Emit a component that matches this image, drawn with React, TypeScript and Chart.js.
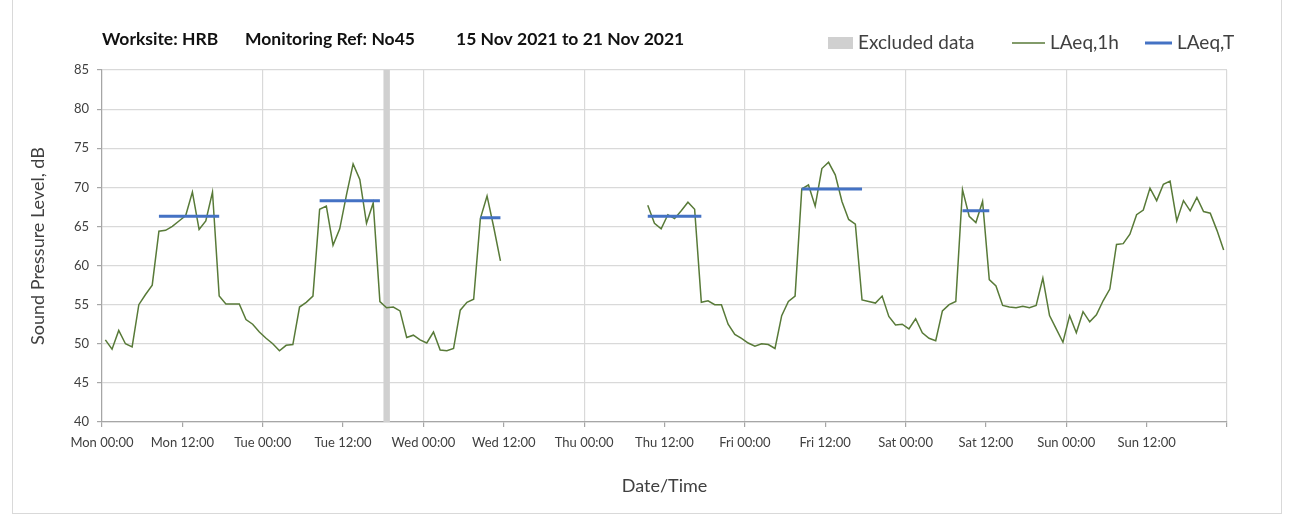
import React, { useEffect, useRef } from 'react';
import { Chart, registerables } from 'chart.js';

Chart.register(...registerables);

// X-axis tick labels, one every 12 hours from Mon 00:00
const tickLabels = [
  'Mon 00:00', 'Mon 12:00', 'Tue 00:00', 'Tue 12:00', 'Wed 00:00', 'Wed 12:00', 'Thu 00:00',
  'Thu 12:00', 'Fri 00:00', 'Fri 12:00', 'Sat 00:00', 'Sat 12:00', 'Sun 00:00', 'Sun 12:00',
];

// Hourly LAeq,1h values (dB), hour 0 = Mon 00:00 ... hour 167 = Sun 23:00; null = no data
const mon = [50.5, 49.3, 51.7, 50.0, 49.6, 55.0, 56.3, 57.5, 64.4, 64.5, 65.0, 65.7, 66.4, 69.4, 64.6, 65.7, 69.4, 56.1, 55.1, 55.1, 55.1, 53.1, 52.5, 51.5];
const tue = [50.7, 50.0, 49.1, 49.8, 49.9, 54.7, 55.3, 56.1, 67.2, 67.6, 62.6, 64.7, 69.0, 73.0, 71.0, 65.4, 68.0, 55.4, 54.6, 54.7, 54.2, 50.8, 51.1, 50.5];
const wed = [50.1, 51.5, 49.2, 49.1, 49.4, 54.3, 55.3, 55.7, 66.0, 68.9, 64.9, 60.6, null, null, null, null, null, null, null, null, null, null, null, null];
const thu = [null, null, null, null, null, null, null, null, null, 67.7, 65.4, 64.7, 66.5, 66.0, 67.0, 68.1, 67.2, 55.3, 55.5, 55.0, 55.0, 52.5, 51.2, 50.7];
const fri = [50.1, 49.7, 50.0, 49.9, 49.4, 53.6, 55.4, 56.1, 69.8, 70.3, 67.6, 72.4, 73.2, 71.6, 68.2, 65.9, 65.3, 55.6, 55.4, 55.2, 56.1, 53.5, 52.4, 52.5];
const sat = [51.9, 53.2, 51.4, 50.7, 50.4, 54.2, 55.0, 55.4, 69.7, 66.3, 65.5, 68.2, 58.2, 57.4, 54.9, 54.7, 54.6, 54.8, 54.6, 54.9, 58.4, 53.6, 51.9, 50.2];
const sun = [53.6, 51.4, 54.1, 52.8, 53.7, 55.5, 57.0, 62.7, 62.8, 64.0, 66.5, 67.1, 69.9, 68.3, 70.4, 70.8, 65.7, 68.3, 67.0, 68.7, 66.9, 66.7, 64.5, 62.0];

// LAeq,T periods: first hour, last hour, level (dB)
const periodStart = [8, 32, 56, 81, 104, 128];
const periodEnd = [17, 41, 59, 89, 113, 132];
const periodLevel = [66.3, 68.3, 66.1, 66.3, 69.8, 67.0];

// Excluded data periods (hours from Mon 00:00)
const excludedStart = [42];
const excludedEnd = [43];

const yMin = 40;
const yMax = 85;
const hoursInWeek = 168;

const titleParts = ['Worksite: HRB', 'Monitoring Ref: No45', '15 Nov 2021 to 21 Nov 2021'];

const FONT = 'Lato, "Open Sans", sans-serif';
const GREEN = '#587a38';
const BLUE = '#4472c4';
const BAND = '#d0d0d0';
const GRID = '#d9d9d9';
const AXIS = '#a6a6a6';
const TEXT = '#404040';

export default function App() {
  const ref = useRef<HTMLCanvasElement>(null);

  useEffect(() => {
    if (!ref.current) return;
    const hourly = [...mon, ...tue, ...wed, ...thu, ...fri, ...sat, ...sun];
    const greenData = hourly.map((v, i) => ({ x: i + 0.5, y: v }));
    const blueData: any[] = [];
    periodStart.forEach((s, k) => {
      blueData.push({ x: s + 0.5, y: periodLevel[k] });
      blueData.push({ x: periodEnd[k] + 0.5, y: periodLevel[k] });
      blueData.push({ x: periodEnd[k] + 0.6, y: null });
    });
    const bandData: any[] = [];
    excludedStart.forEach((s, k) => {
      bandData.push({ x: s, y: yMax });
      bandData.push({ x: excludedEnd[k], y: yMax });
    });

    const header = {
      id: 'header',
      afterDraw(chart: any) {
        const ctx = chart.ctx;
        ctx.save();
        ctx.textBaseline = 'middle';
        ctx.textAlign = 'left';
        ctx.fillStyle = '#111';
        ctx.font = `bold 17.5px ${FONT}`;
        const tx = [102, 245, 456];
        titleParts.forEach((t, i) => ctx.fillText(t, tx[i], 39));

        // legend
        const ly = 43;
        ctx.font = `19px ${FONT}`;
        const items = [
          { x: 828, w: 25, type: 'rect', color: BAND, lw: 0, text: chart.data.datasets[0].label },
          { x: 1012, w: 33, type: 'line', color: GREEN, lw: 1.5, text: chart.data.datasets[1].label },
          { x: 1145, w: 27, type: 'line', color: BLUE, lw: 3, text: chart.data.datasets[2].label },
        ];
        items.forEach((it) => {
          if (it.type === 'rect') {
            ctx.fillStyle = it.color;
            ctx.fillRect(it.x, ly - 6, it.w, 12);
          } else {
            ctx.strokeStyle = it.color;
            ctx.lineWidth = it.lw;
            ctx.beginPath();
            ctx.moveTo(it.x, ly);
            ctx.lineTo(it.x + it.w, ly);
            ctx.stroke();
          }
          ctx.fillStyle = TEXT;
          ctx.fillText(it.text, it.x + it.w + 5, ly);
        });
        ctx.restore();
      },
    };

    const chart = new Chart(ref.current, {
      type: 'line',
      data: {
        datasets: [
          {
            label: 'Excluded data',
            data: bandData,
            borderWidth: 0,
            pointRadius: 0,
            backgroundColor: BAND,
            borderColor: BAND,
            fill: 'start',
            order: 3,
          } as any,
          {
            label: 'LAeq,1h',
            data: greenData,
            borderColor: GREEN,
            borderWidth: 1.5,
            pointRadius: 0,
            tension: 0,
            spanGaps: false,
            fill: false,
            order: 2,
          },
          {
            label: 'LAeq,T',
            data: blueData,
            borderColor: BLUE,
            borderWidth: 3,
            pointRadius: 0,
            spanGaps: false,
            fill: false,
            order: 1,
          },
        ],
      },
      options: {
        animation: false,
        responsive: false,
        events: [],
        layout: { padding: { left: 27, right: 68, top: 70, bottom: 20 } },
        plugins: {
          legend: { display: false },
          tooltip: { enabled: false },
          title: { display: false },
        },
        scales: {
          x: {
            type: 'linear',
            min: 0,
            max: hoursInWeek,
            ticks: {
              stepSize: 12,
              autoSkip: false,
              maxRotation: 0,
              padding: 8,
              color: TEXT,
              font: { family: FONT, size: 13 },
              callback: (v: any) => tickLabels[Math.round(Number(v) / 12)] ?? '',
            },
            grid: {
              color: (c: any) => (c.tick && c.tick.value % 24 === 0 ? GRID : 'rgba(0,0,0,0)'),
              tickColor: AXIS,
              tickLength: 5,
              lineWidth: 1.2,
            },
            border: { color: AXIS, width: 1.2 },
            title: {
              display: true,
              text: 'Date/Time',
              color: TEXT,
              font: { family: FONT, size: 18 },
              padding: { top: 0, bottom: 4 },
            },
            afterFit: (s: any) => {
              s.height = 79;
            },
          },
          y: {
            min: yMin,
            max: yMax,
            ticks: {
              stepSize: 5,
              padding: 8,
              color: TEXT,
              font: { family: FONT, size: 13 },
            },
            grid: {
              color: GRID,
              tickColor: AXIS,
              tickLength: 5,
              lineWidth: 1.2,
            },
            border: { color: AXIS, width: 1.2 },
            title: {
              display: true,
              text: 'Sound Pressure Level, dB',
              color: TEXT,
              font: { family: FONT, size: 18 },
              padding: { top: 0, bottom: 0 },
            },
            afterFit: (s: any) => {
              s.width = 75;
            },
          },
        },
      } as any,
      plugins: [header],
    });
    return () => chart.destroy();
  }, []);

  return (
    <div style={{ position: 'absolute', left: 0, top: 0, width: 1295, height: 521, background: '#fff' }}>
      <div
        style={{
          position: 'absolute',
          left: 12,
          top: -1,
          width: 1270,
          height: 515,
          border: '1px solid #d9d9d9',
          boxSizing: 'border-box',
        }}
      />
      <canvas ref={ref} width={1295} height={521} style={{ position: 'absolute', left: 0, top: 0 }} />
    </div>
  );
}
